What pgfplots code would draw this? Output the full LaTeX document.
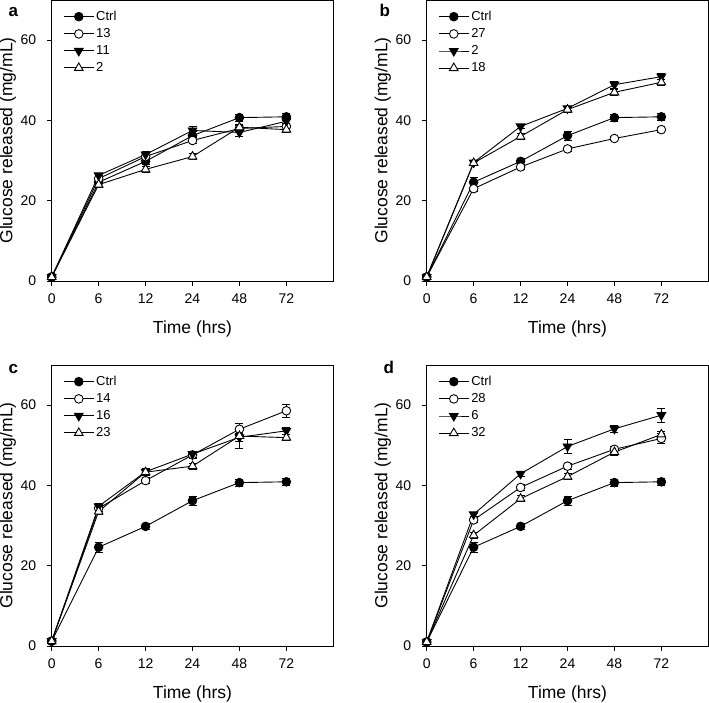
\documentclass[border=0pt]{standalone}
\usepackage{fontspec}
\setmainfont{Liberation Sans}
\usepackage{pgfplots}
\pgfplotsset{compat=1.18}
\usepackage{pgfplotstable}

% columns: x, Ctrl, err, series 1, err, series 2, err, series 3, err
\pgfplotstableread{
x c ce p pe q qe r re
0 1.0 0.3 1.0 0.3 1.0 0.3 1.0 0.3
1 24.6 1.2 25.5 0.8 26.3 0.6 24.0 0.8
2 29.8 0.7 31.0 0.8 31.5 0.8 27.8 0.7
3 36.2 1.1 35.0 0.8 37.5 1.0 31.0 0.7
4 40.7 0.9 38.0 0.8 37.0 0.9 38.3 0.8
5 40.9 0.9 38.5 0.8 39.8 0.8 37.7 0.7
}\dataA
\pgfplotstableread{
x c ce p pe q qe r re
0 1.0 0.3 1.0 0.3 1.0 0.3 1.0 0.3
1 24.6 1.2 23.0 0.6 29.5 0.6 29.4 0.6
2 29.8 0.7 28.4 0.6 38.5 0.6 36.0 0.8
3 36.2 1.1 32.9 0.6 43.0 0.6 42.7 0.6
4 40.7 0.9 35.5 0.6 48.9 0.8 47.0 0.8
5 40.9 0.9 37.7 0.6 50.9 0.7 49.5 0.8
}\dataB
\pgfplotstableread{
x c ce p pe q qe r re
0 1.2 0.3 1.2 0.3 1.2 0.3 1.2 0.3
1 24.6 1.2 34.3 0.8 34.8 0.6 33.5 0.8
2 29.8 0.7 41.2 0.8 43.4 0.8 43.3 0.8
3 36.2 1.1 47.6 0.8 47.8 0.7 44.8 0.8
4 40.7 0.9 54.0 1.4 52.0 1.0 52.3 3.1
5 40.9 0.9 58.6 1.6 53.6 0.8 51.9 0.8
}\dataC
\pgfplotstableread{
x c ce p pe q qe r re
0 1.0 0.3 1.0 0.3 1.0 0.3 1.0 0.3
1 24.6 1.2 31.4 0.7 32.8 0.6 27.6 0.8
2 29.8 0.7 39.5 0.7 42.9 0.6 36.7 0.7
3 36.2 1.1 44.8 0.7 49.7 1.7 42.2 0.7
4 40.7 0.9 49.0 0.7 54.1 0.8 48.3 0.7
5 40.9 0.9 51.7 1.2 57.5 1.8 52.7 0.8
}\dataD

\pgfplotsset{
  panel/.style={
    scale only axis, width=281.6pt, height=281pt,
    xmin=0, xmax=6, ymin=0, ymax=70,
    xtick={0,...,5}, xticklabels={0,6,12,24,48,72},
    ytick={0,20,40,60},
    tick align=outside, xtick pos=bottom, ytick pos=left,
    major tick length=5pt,
    tick style={black, line width=0.8pt},
    axis line style={line width=0.9pt},
    tick label style={font=\fontsize{14}{14}\selectfont},
    xticklabel style={yshift=-4pt},
    yticklabel style={xshift=-7pt},
    /pgf/number format/assume math mode=true,
    xlabel={Time (hrs)}, ylabel={Glucose released (mg/mL)},
    label style={font=\fontsize{17.5}{17.5}\selectfont},
    xlabel style={at={(axis description cs:0.5,-0.17)}, anchor=center},
    ylabel style={at={(axis description cs:-0.156,0.5)}, anchor=center},
    legend style={at={(axis description cs:0.03,0.975)}, anchor=north west,
      draw=none, fill=none, font=\fontsize{13}{13}\selectfont,
      row sep=2.5pt, nodes={inner sep=2pt}},
    legend cell align=left,
    legend image code/.code={\draw[mark repeat=2, mark phase=2]
      plot coordinates {(0pt,0pt) (15pt,0pt) (30pt,0pt)};},
    every axis plot/.append style={black, line width=0.9pt},
  },
  eb/.style={
    error bars/y dir=both, error bars/y explicit,
    error bars/error bar style={line width=0.8pt, solid},
    error bars/error mark options={rotate=90, mark size=4pt, line width=0.8pt}},
  ctrl/.style={eb, mark=*, mark size=4.3pt, mark options={fill=black, solid}},
  ocirc/.style={eb, mark=*, mark size=4.3pt, mark options={fill=white, solid}},
  tdown/.style={eb, mark=triangle*, mark size=5pt, mark options={fill=black, rotate=180, solid}},
  tup/.style={eb, mark=triangle*, mark size=5pt, mark options={fill=white, solid}},
}

\newcommand{\series}[1]{%
  \addplot[ctrl] table[x=x, y=c, y error=ce] {#1};
  \addplot[ocirc] table[x=x, y=p, y error=pe] {#1};
  \addplot[tdown] table[x=x, y=q, y error=qe] {#1};
  \addplot[tup] table[x=x, y=r, y error=re] {#1};
}

\begin{document}
\begin{tikzpicture}
\begin{axis}[panel, at={(51.7pt,422pt)}, anchor=south west]
\series{\dataA}
\legend{Ctrl,13,11,2}
\end{axis}
\begin{axis}[panel, at={(426.7pt,422pt)}, anchor=south west]
\series{\dataB}
\legend{Ctrl,27,2,18}
\end{axis}
\begin{axis}[panel, at={(51.7pt,57pt)}, anchor=south west]
\series{\dataC}
\legend{Ctrl,14,16,23}
\end{axis}
\begin{axis}[panel, at={(426.7pt,57pt)}, anchor=south west]
\series{\dataD}
\legend{Ctrl,28,6,32}
\end{axis}
\node[anchor=base west, font=\bfseries\fontsize{17}{17}\selectfont] at (5pt,686.5pt) {a};
\node[anchor=base west, font=\bfseries\fontsize{17}{17}\selectfont] at (376pt,686.5pt) {b};
\node[anchor=base west, font=\bfseries\fontsize{17}{17}\selectfont] at (5pt,329.7pt) {c};
\node[anchor=base west, font=\bfseries\fontsize{17}{17}\selectfont] at (380pt,329.7pt) {d};
\pgfresetboundingbox
\path[use as bounding box] (0pt,0pt) rectangle (709pt,703pt);
\end{tikzpicture}
\end{document}
